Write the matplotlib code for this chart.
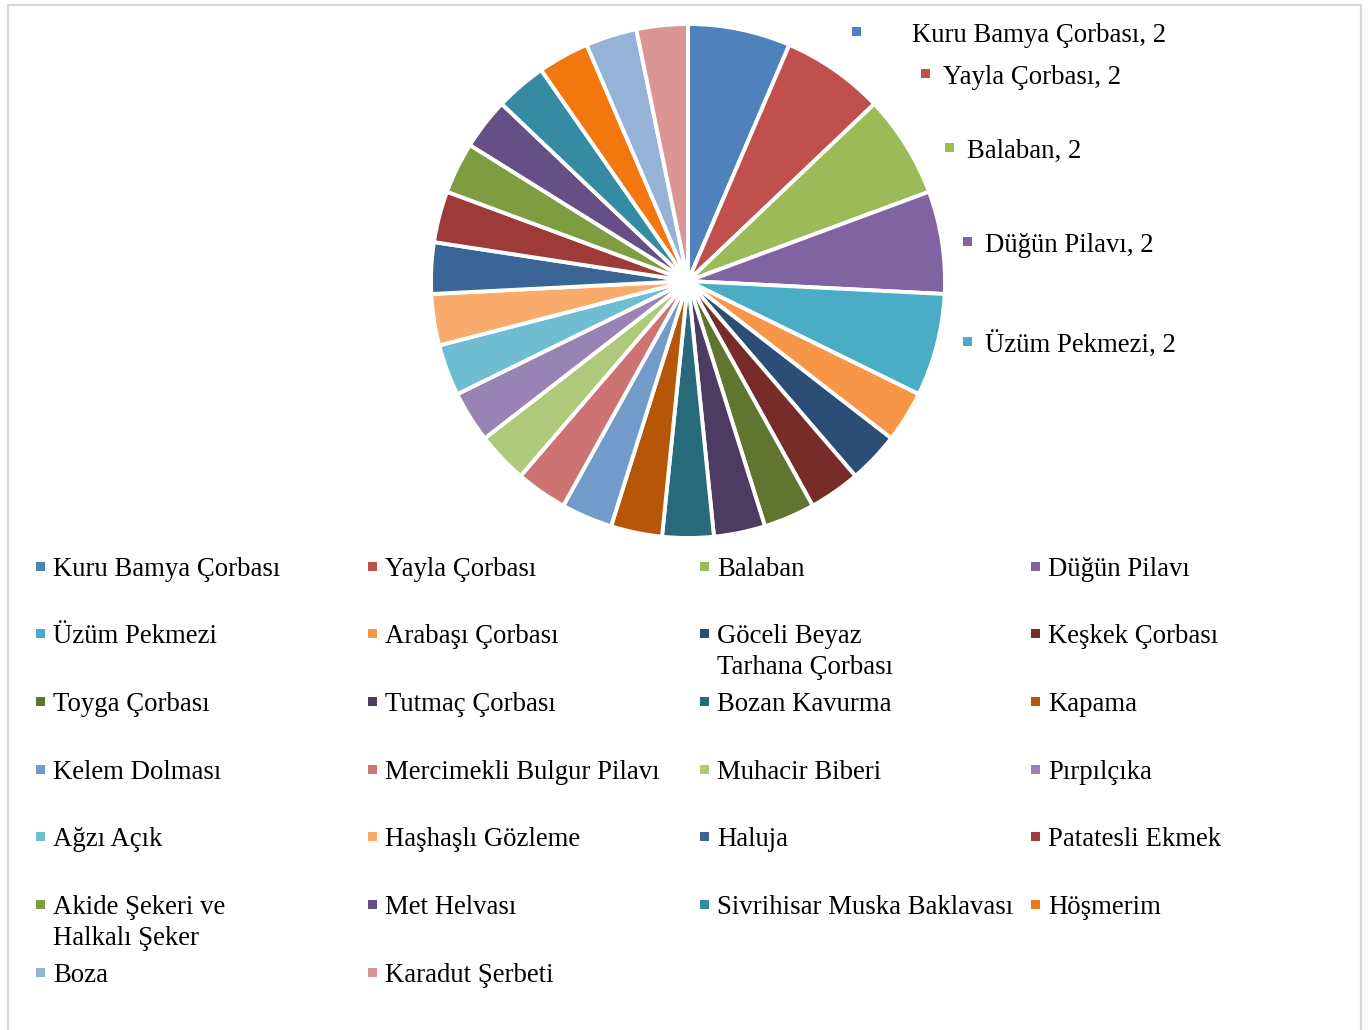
import matplotlib.pyplot as plt
from matplotlib.patches import Rectangle

plt.rcParams["font.family"] = ["Liberation Serif", "DejaVu Serif"]

foods = ["Kuru Bamya Çorbası", "Yayla Çorbası", "Balaban", "Düğün Pilavı", "Üzüm Pekmezi",
         "Arabaşı Çorbası", "Göceli Beyaz Tarhana Çorbası", "Keşkek Çorbası", "Toyga Çorbası",
         "Tutmaç Çorbası", "Bozan Kavurma", "Kapama", "Kelem Dolması", "Mercimekli Bulgur Pilavı",
         "Muhacir Biberi", "Pırpılçıka", "Ağzı Açık", "Haşhaşlı Gözleme", "Haluja", "Patatesli Ekmek",
         "Akide Şekeri ve Halkalı Şeker", "Met Helvası", "Sivrihisar Muska Baklavası", "Höşmerim",
         "Boza", "Karadut Şerbeti"]
counts = [2, 2, 2, 2, 2, 1, 1, 1, 1, 1, 1, 1, 1, 1, 1, 1, 1, 1, 1, 1, 1, 1, 1, 1, 1, 1]
# legend text as wrapped in the original
legend_text = {"Göceli Beyaz Tarhana Çorbası": "Göceli Beyaz\nTarhana Çorbası",
               "Akide Şekeri ve Halkalı Şeker": "Akide Şekeri ve\nHalkalı Şeker"}
colors = ["#4F81BD", "#C0504D", "#9BBB59", "#8064A2", "#4BACC6", "#F79646",
          "#2C4D75", "#772C2A", "#5F7530", "#4D3B62", "#276A7C", "#B65708",
          "#729ACA", "#CD7371", "#AFC97A", "#9983B5", "#6FBDD1", "#F9AB6B",
          "#3A6595", "#9E3B38", "#7E9C40", "#654F84", "#358BA4", "#F2770F",
          "#95B3D7", "#D99694"]

W, H = 1368, 1030
fig = plt.figure(figsize=(W / 100, H / 100), dpi=100)

def fx(px):
    return px / W

def fy(py):
    return 1 - py / H

# chart border
fig.patches.append(Rectangle((fx(8), fy(1040)), fx(1361) - fx(8), fy(5) - fy(1040),
                             transform=fig.transFigure, fill=False, ec="#D9D9D9", lw=1.6))

# pie
cx, cy, r = 688, 281, 257
ax = fig.add_axes([fx(cx - r), fy(cy + r), 2 * r / W, 2 * r / H])
wedges, _ = ax.pie(counts, colors=colors, startangle=90, counterclock=False,
                   wedgeprops=dict(edgecolor="white", linewidth=2.8))
for w in wedges:
    w.set_clip_on(False)
ax.set_xlim(-1, 1)
ax.set_ylim(-1, 1)

# data labels for the bigger slices (Excel style with legend key)
lab_pos = [(856, 31, 912), (925, 73, 943), (949, 147, 967), (967, 241, 985), (967, 341, 985)]
big = [i for i, c in enumerate(counts) if c > 1]
for i, (mx, my, tx) in zip(big, lab_pos):
    fig.patches.append(Rectangle((fx(mx - 4.5), fy(my + 4.5)), 9 / W, 9 / H,
                                 transform=fig.transFigure, fc=colors[i], ec="none"))
    fig.text(fx(tx), fy(my + 11), f"{foods[i]}, {counts[i]}", fontsize=19.3,
             va="baseline", ha="left")

# legend, 4 columns, row-major like Excel
col_x = [36, 368, 700, 1031]
row_y = [566, 633, 701, 769, 836, 904, 972]
for k, name in enumerate(foods):
    mx, my = col_x[k % 4], row_y[k // 4]
    fig.patches.append(Rectangle((fx(mx), fy(my + 4.5)), 9 / W, 9 / H,
                                 transform=fig.transFigure, fc=colors[k], ec="none"))
    for j, line in enumerate(legend_text.get(name, name).split("\n")):
        fig.text(fx(mx + 17), fy(my + 10 + 31 * j), line, fontsize=19.3,
                 va="baseline", ha="left")

fig.savefig("out.png", dpi=100)
